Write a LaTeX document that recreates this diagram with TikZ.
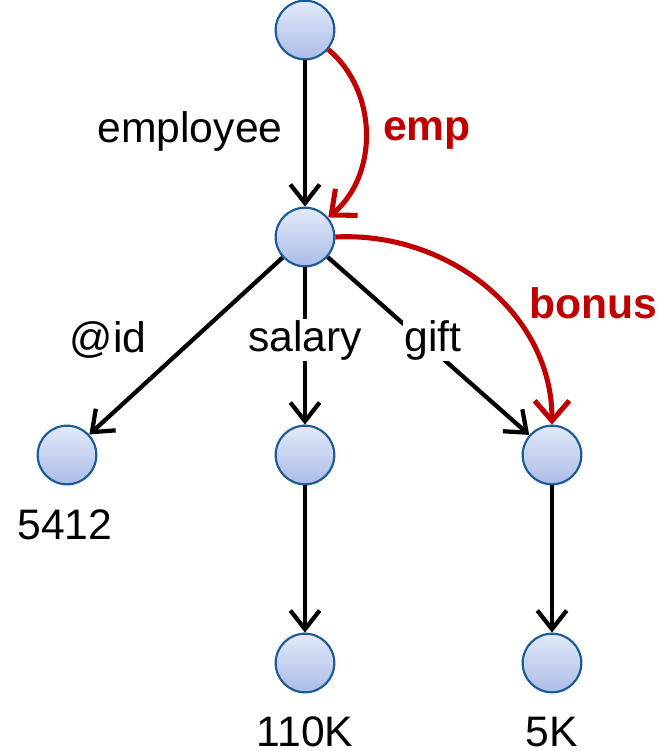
\documentclass[tikz,border=0pt]{standalone}
\usepackage{fontspec}
\setmainfont{Liberation Sans}
\usepackage{xcolor}
\usetikzlibrary{arrows.meta, positioning}
\definecolor{nodeblue}{RGB}{26,90,150}
\definecolor{shadetop}{RGB}{228,233,248}
\definecolor{shadebot}{RGB}{170,188,232}
\definecolor{pathred}{RGB}{192,0,0}

\begin{document}
\begin{tikzpicture}[x=0.75pt, y=-0.75pt,
    vertex/.style={circle, draw=nodeblue, line width=1.6pt, top color=shadetop, bottom color=shadebot, minimum size=44pt, inner sep=0pt},
    edge/.style={line width=3.2pt, -{Straight Barb[length=14pt, width=22pt]}},
    redge/.style={line width=3.8pt, draw=pathred, -{Straight Barb[length=15pt, width=26pt]}},
    lbl/.style={font=\fontsize{32}{38}\selectfont, inner sep=1pt},
    elbl/.style={lbl, fill=white},
    rlbl/.style={lbl, text=pathred, font=\fontsize{32}{38}\selectfont\bfseries}]
    \useasboundingbox (0,0) rectangle (659,751);

    \node[vertex] (root) at (305,30) {};
    \node[vertex] (emp) at (305,237) {};
    \node[vertex] (id) at (67,455) {};
    \node[vertex] (sal) at (305,455) {};
    \node[vertex] (gift) at (552,455) {};
    \node[vertex] (salv) at (305,663) {};
    \node[vertex] (giftv) at (552,663) {};

    \draw[edge] (root) -- (emp);
    \draw[edge] (emp) -- (id);
    \draw[edge] (emp) -- (sal);
    \draw[edge] (emp) -- (gift);
    \draw[edge] (sal) -- (salv);
    \draw[edge] (gift) -- (giftv);

    \draw[redge] (root) to[bend left=50] (emp);
    \draw[redge] (emp.east) to[out=3, in=90] (gift.north);

    \node[lbl] (lemployee) at (190,131) {employee};
    \node[elbl] (lid) at (108,340) {@id};
    \node[elbl] (lsal) at (305,340) {salary};
    \node[elbl] (lgift) at (433,340) {gift};
    \node[rlbl] (lemp) at (427,133) {emp};
    \node[rlbl] (lbonus) at (593,303) {bonus};

    \node[lbl] (v1) at (65,525) {5412};
    \node[lbl] (v2) at (305,732) {110K};
    \node[lbl] (v3) at (552,732) {5K};
\end{tikzpicture}
\end{document}
